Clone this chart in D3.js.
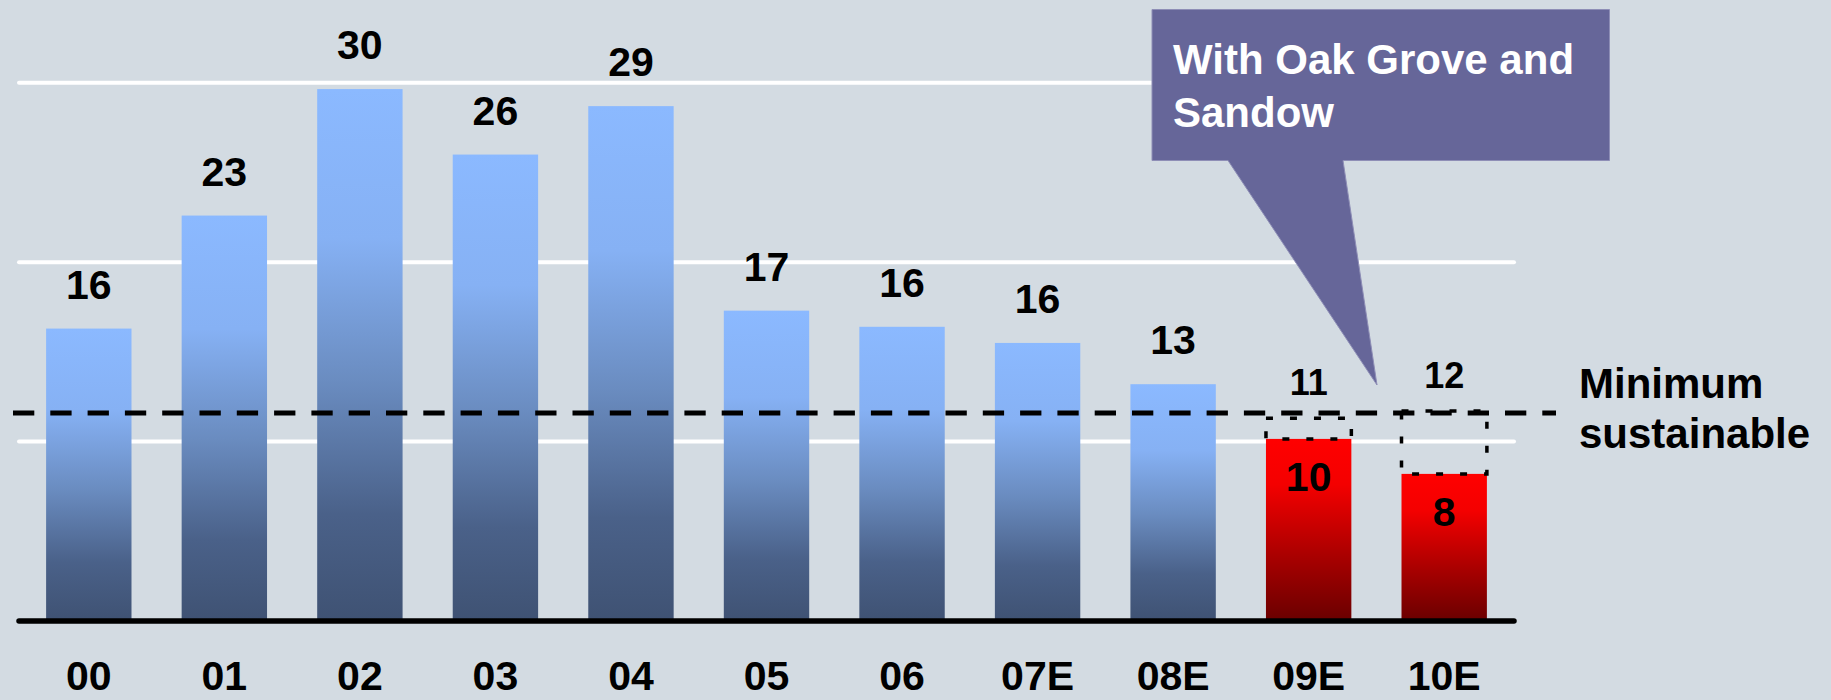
<!DOCTYPE html>
<html>
<head>
<meta charset="utf-8">
<script src="https://cdn.jsdelivr.net/npm/d3@7"></script>
<style>
  html, body { margin: 0; padding: 0; background: #d3dbe2; }
  svg { display: block; }
  text { font-family: "Liberation Sans", Arial, sans-serif; font-weight: bold; }
</style>
</head>
<body>
<svg id="chart" width="1831" height="700"></svg>
<script>
// years on the x axis
const years = ["00", "01", "02", "03", "04", "05", "06", "07E", "08E", "09E", "10E"];
// bar heights
const values = [16.3, 22.6, 29.65, 26.0, 28.7, 17.3, 16.4, 15.5, 13.2, 10.15, 8.2];
// labels printed on the bars
const valueLabels = ["16", "23", "30", "26", "29", "17", "16", "16", "13", "10", "8"];
// which bars are the red forecast ones
const forecast = ["09E", "10E"];
// "With Oak Grove and Sandow" boxes on top of the red bars
const withPlantYears = ["09E", "10E"];
const withPlantValues = [11.3, 11.7];
const withPlantLabels = ["11", "12"];
// horizontal grid lines
const gridValues = [10, 20, 30];
// minimum sustainable level
const minSustainable = 11.6;

const svg = d3.select("#chart");

const x = d3.scaleBand()
    .domain(years)
    .range([19, 1514])
    .paddingInner(0.37)
    .paddingOuter(0.2);

const y = d3.scaleLinear()
    .domain([0, 30])
    .range([621, 82.8]);

// gradients
const defs = svg.append("defs");
const blue = defs.append("linearGradient")
    .attr("id", "blueGrad")
    .attr("x1", 0).attr("y1", 0).attr("x2", 0).attr("y2", 1);
blue.append("stop").attr("offset", "0%").attr("stop-color", "#8bb9ff");
blue.append("stop").attr("offset", "28%").attr("stop-color", "#86b1f4");
blue.append("stop").attr("offset", "55%").attr("stop-color", "#6a8cc0");
blue.append("stop").attr("offset", "80%").attr("stop-color", "#4a6189");
blue.append("stop").attr("offset", "100%").attr("stop-color", "#3f5273");

const red = defs.append("linearGradient")
    .attr("id", "redGrad")
    .attr("x1", 0).attr("y1", 0).attr("x2", 0).attr("y2", 1);
red.append("stop").attr("offset", "0%").attr("stop-color", "#ff0000");
red.append("stop").attr("offset", "25%").attr("stop-color", "#f40000");
red.append("stop").attr("offset", "65%").attr("stop-color", "#a80000");
red.append("stop").attr("offset", "100%").attr("stop-color", "#6a0000");

// grid lines
svg.append("g")
    .selectAll("line")
    .data(gridValues)
    .join("line")
    .attr("x1", x.range()[0])
    .attr("x2", x.range()[1])
    .attr("y1", d => y(d))
    .attr("y2", d => y(d))
    .attr("stroke", "#fff")
    .attr("stroke-width", 4)
    .attr("stroke-linecap", "round");

const data = years.map((yr, i) => ({ year: yr, value: values[i], label: valueLabels[i] }));

// bars
svg.append("g")
    .selectAll("rect")
    .data(data)
    .join("rect")
    .attr("x", d => x(d.year))
    .attr("width", x.bandwidth())
    .attr("y", d => y(d.value))
    .attr("height", d => y(0) - y(d.value))
    .attr("fill", d => forecast.includes(d.year) ? "url(#redGrad)" : "url(#blueGrad)");

// dotted boxes for the "with Oak Grove and Sandow" amounts
const plantData = withPlantYears.map((yr, i) => ({
    year: yr, value: withPlantValues[i], label: withPlantLabels[i],
    base: values[years.indexOf(yr)]
}));

svg.append("g")
    .selectAll("rect")
    .data(plantData)
    .join("rect")
    .attr("x", d => x(d.year))
    .attr("width", x.bandwidth())
    .attr("y", d => y(d.value))
    .attr("height", d => y(d.base) - y(d.value))
    .attr("fill", "none")
    .attr("stroke", "#000")
    .attr("stroke-width", 3.5)
    .attr("stroke-dasharray", "7,17");

// minimum sustainable dashed line
svg.append("line")
    .attr("x1", 13)
    .attr("x2", 1556)
    .attr("y1", y(minSustainable))
    .attr("y2", y(minSustainable))
    .attr("stroke", "#000")
    .attr("stroke-width", 5)
    .attr("stroke-dasharray", "21.3,16");

// baseline
svg.append("line")
    .attr("x1", x.range()[0])
    .attr("x2", x.range()[1])
    .attr("y1", y(0))
    .attr("y2", y(0))
    .attr("stroke", "#000")
    .attr("stroke-width", 5.5)
    .attr("stroke-linecap", "round");

// value labels
svg.append("g")
    .selectAll("text")
    .data(data)
    .join("text")
    .attr("x", d => x(d.year) + x.bandwidth() / 2)
    .attr("y", d => forecast.includes(d.year) ? y(d.value) + 52 : y(d.value) - 30)
    .attr("text-anchor", "middle")
    .attr("font-size", 41)
    .attr("fill", "#000")
    .text(d => d.label);

svg.append("g")
    .selectAll("text")
    .data(plantData)
    .join("text")
    .attr("x", d => x(d.year) + x.bandwidth() / 2)
    .attr("y", d => y(d.value) - 23)
    .attr("text-anchor", "middle")
    .attr("font-size", 36)
    .attr("fill", "#000")
    .text(d => d.label);

// x axis labels
const xAxis = svg.append("g")
    .attr("transform", `translate(0,${y(0)})`)
    .call(d3.axisBottom(x).tickSize(0).tickPadding(0));
xAxis.select(".domain").remove();
xAxis.selectAll("text")
    .attr("dy", null)
    .attr("y", 69)
    .attr("font-size", 41)
    .attr("font-family", "'Liberation Sans', Arial, sans-serif")
    .attr("font-weight", "bold")
    .attr("fill", "#000");

// label for the dashed line
const minText = svg.append("text")
    .attr("x", 1579)
    .attr("y", y(minSustainable) - 15)
    .attr("font-size", 42)
    .attr("fill", "#000");
minText.append("tspan").attr("x", 1579).text("Minimum");
minText.append("tspan").attr("x", 1579).attr("dy", 50).text("sustainable");

// callout
const callout = svg.append("g");
callout.append("path")
    .attr("d", "M1152,9.5 L1609.5,9.5 L1609.5,160.5 L1343,160.5 L1377,385 L1228,160.5 L1152,160.5 Z")
    .attr("fill", "#666699")
    .attr("stroke", "#8e8eb6")
    .attr("stroke-width", 1);
const calloutText = callout.append("text")
    .attr("font-size", 42)
    .attr("fill", "#fff");
calloutText.append("tspan").attr("x", 1173).attr("y", 74).text("With Oak Grove and");
calloutText.append("tspan").attr("x", 1173).attr("y", 127).text("Sandow");
</script>
</body>
</html>
